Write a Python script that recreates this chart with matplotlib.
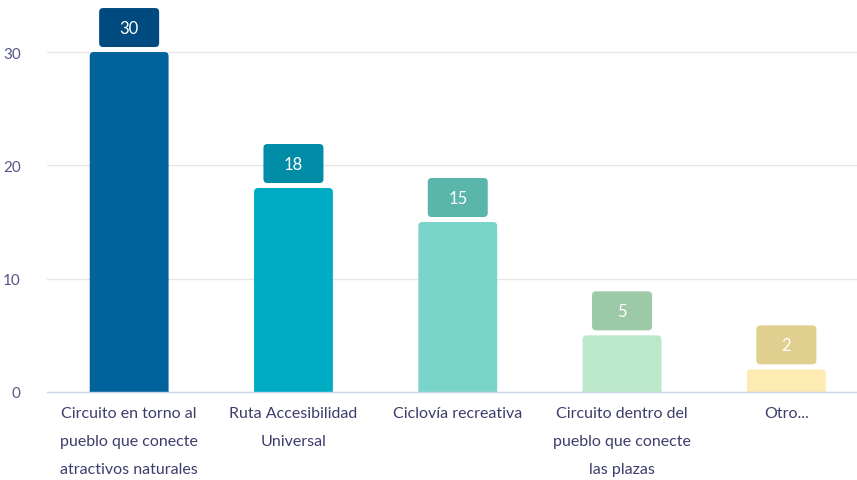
import matplotlib
matplotlib.use("Agg")
import matplotlib.pyplot as plt
from matplotlib.patches import FancyBboxPatch
from matplotlib.transforms import ScaledTranslation

categories = ["Circuito en torno al\npueblo que conecte\natractivos naturales",
              "Ruta Accesibilidad\nUniversal",
              "Ciclovía recreativa",
              "Circuito dentro del\npueblo que conecte\nlas plazas",
              "Otro..."]
values = [30, 18, 15, 5, 2]
bar_colors = ["#00639c", "#00abc4", "#79d4c9", "#bbe8c8", "#fdebb3"]
label_colors = ["#004a80", "#008ca6", "#5ab5ab", "#9ccaa8", "#e0cf8f"]
yticks = [0, 10, 20, 30]

plt.rcParams['font.family'] = ['Lato', 'DejaVu Sans']

fig = plt.figure(figsize=(8.57, 4.81), dpi=100)
ax = fig.add_axes([47/857, 88/481, 810/857, 393/481])

x = list(range(len(categories)))
bars = ax.bar(x, values, width=0.48, color=bar_colors, zorder=2)

ax.set_xlim(-0.5, 4.43)
ax.set_ylim(0, 34.68)

# rounded bar tops
for b, c in zip(bars, bar_colors):
    bx, by = b.get_x(), b.get_y()
    w, h = b.get_width(), b.get_height()
    b.set_visible(False)
    p = FancyBboxPatch((bx, by - 1), w, h + 1,
                       boxstyle="round,pad=0,rounding_size=0.025",
                       mutation_aspect=14.5, facecolor=c, edgecolor='none',
                       zorder=2, clip_on=True)
    ax.add_patch(p)

# value label boxes
for xi, v, lc in zip(x, values, label_colors):
    tr = fig.dpi_scale_trans + ScaledTranslation(xi, v, ax.transData)
    box = FancyBboxPatch((-0.30, 0.05), 0.60, 0.39,
                         boxstyle="round,pad=0,rounding_size=0.04",
                         transform=tr, facecolor=lc, edgecolor='none',
                         zorder=3, clip_on=False)
    ax.add_patch(box)
    ax.text(0, 0.245, str(v), transform=tr, ha='center', va='center',
            color='white', fontsize=12, zorder=4)

ax.set_yticks(yticks)
ax.set_yticklabels([str(t) for t in yticks])
ax.set_xticks(x)
ax.set_xticklabels(categories, linespacing=2.3, va='top')
ax.tick_params(axis='y', length=0, pad=19, labelsize=11, labelcolor='#555588')
ax.tick_params(axis='x', length=0, pad=10, labelsize=11.5, labelcolor='#3d3d6b')

ax.grid(axis='y', color='#e6e6e6', linewidth=1, zorder=0)
ax.set_axisbelow(True)
for s in ['top', 'right', 'left']:
    ax.spines[s].set_visible(False)
ax.spines['bottom'].set_color('#ccd6eb')
ax.spines['bottom'].set_linewidth(1)
ax.spines['bottom'].set_zorder(5)

fig.savefig("out.png", dpi=100)
